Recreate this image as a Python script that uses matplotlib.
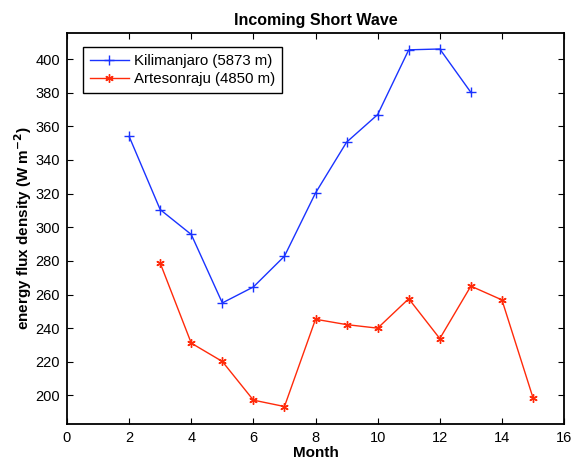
import numpy as np
import matplotlib.pyplot as plt

plt.rcParams['font.family'] = ['Liberation Sans', 'DejaVu Sans']

# data
kili_month = [2, 3, 4, 5, 6, 7, 8, 9, 10, 11, 12, 13]
kili_flux = [354, 310.5, 295.7, 255, 264.5, 282.8, 320.4, 350.6, 367, 405.5, 406, 380.2]

arte_month = [3, 4, 5, 6, 7, 8, 9, 10, 11, 12, 13, 14, 15]
arte_flux = [278.7, 231.1, 220.2, 197.2, 193.4, 245.3, 242.1, 240, 257.5, 233.8, 265, 256.8, 198.6]

xticks = np.arange(0, 17, 2)
yticks = np.arange(200, 401, 20)

fig = plt.figure(figsize=(5.74, 4.63), dpi=100)
ax = fig.add_axes((0.1167, 0.0842, 0.866, 0.8445))

ax.plot(kili_month, kili_flux, color='#1a33ff', marker='+', markersize=7,
        markeredgewidth=1.0, linewidth=1.0, label='Kilimanjaro (5873 m)')
ax.plot(arte_month, arte_flux, color='#ff2a0a', marker=(6, 2, 0), markersize=6,
        markeredgewidth=1.0, linewidth=1.0, label='Artesonraju (4850 m)')

ax.set_xlim(0, 16)
ax.set_ylim(183, 415.5)
ax.set_xticks(xticks)
ax.set_yticks(yticks)
ax.tick_params(direction='in', top=True, right=True, length=4, width=0.8,
               labelsize=10.5, pad=5)
for s in ax.spines.values():
    s.set_linewidth(1.3)

ax.set_title('Incoming Short Wave', fontsize=11.5, fontweight='bold', pad=6)
ax.set_xlabel('Month', fontsize=11, fontweight='bold', labelpad=1)
ax.set_ylabel('energy flux density (W m$^{\\mathbf{-2}}$)', fontsize=11,
              fontweight='bold', labelpad=1)

leg = ax.legend(loc='upper left', bbox_to_anchor=(0.032, 0.964), fontsize=10.8,
                fancybox=False, framealpha=1, edgecolor='black',
                borderpad=0.45, handlelength=2.6, labelspacing=0.3,
                handletextpad=0.35, borderaxespad=0)
leg.get_frame().set_linewidth(1.0)

fig.savefig('out.png', dpi=100)
